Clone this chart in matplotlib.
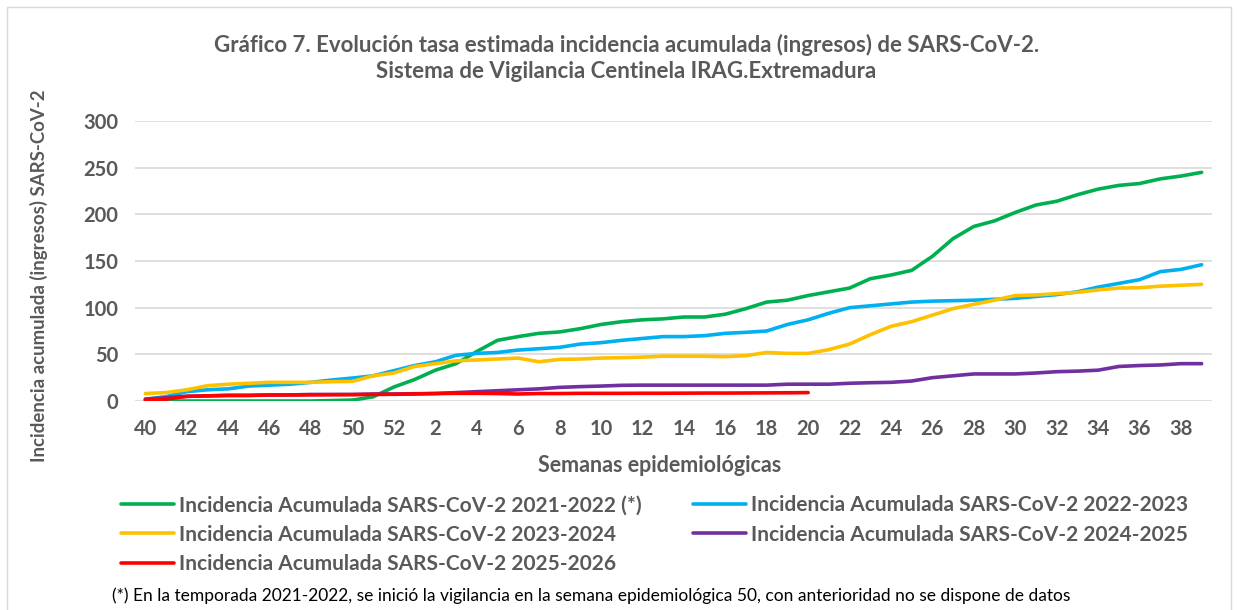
import matplotlib
matplotlib.use("Agg")
import matplotlib.pyplot as plt
from matplotlib.patches import Rectangle

plt.rcParams['font.family'] = ['Lato', 'DejaVu Sans']

weeks = list(range(40, 53)) + list(range(1, 40))

inc_2021_2022 = [0, 0, 0, 0, 0, 0, 0, 0, 0, 0.5, 1, 4.5, 15, 23, 33, 40, 53, 65, 69, 72.5,
                 74, 77.5, 82, 85, 87, 88, 90, 90, 93, 99, 106, 108, 113, 117, 121, 131,
                 135, 140, 155, 174, 187, 193, 202, 210, 214, 221, 227, 231, 233, 238, 241, 245]
inc_2022_2023 = [2, 4.6, 10, 12, 13, 16, 17, 18, 20, 22.5, 24.6, 27, 32.5, 38, 42, 49, 51, 52,
                 54.6, 56, 57.5, 61, 62.5, 65, 67, 69, 69, 70, 72.5, 73.6, 75, 82, 87, 94, 100,
                 102, 104, 106, 107, 107.5, 108, 109, 110, 112, 114, 117, 122, 126, 130, 138.6,
                 141, 146]
inc_2023_2024 = [8, 9, 12, 16.4, 18, 19, 20, 20, 20, 20.7, 21, 27, 30, 37, 40, 43, 44, 45, 46,
                 42, 44.6, 45, 46, 46.4, 47, 48, 48, 48, 47.5, 48.6, 52, 51, 51, 55, 61, 71, 80,
                 85, 92, 99, 103.6, 108, 113, 113.6, 115, 116.4, 119, 121, 121.4, 123, 124, 125]
inc_2024_2025 = [2, 3.5, 5, 5.5, 6, 6, 6.5, 6.5, 7, 7, 7, 7.5, 7.5, 7.8, 8, 9, 10, 11, 12, 13,
                 14.6, 15.4, 16, 16.8, 17, 17, 17, 17, 17, 17, 17, 18, 18, 18, 19, 19.6, 20,
                 21.4, 25, 27, 29, 29, 29, 30, 31.4, 32, 33, 37, 38, 38.6, 40, 40]
inc_2025_2026 = [1, 2, 5, 5.5, 6, 6, 6.4, 6.5, 6.6, 6.7, 6.8, 7, 7.2, 7.5, 8, 8.2, 8.2, 8, 7.5,
                 8, 8, 8.2, 8.2, 8.2, 8.3, 8.3, 8.4, 8.5, 8.5, 8.6, 8.7, 8.8, 9]

series = [
    ("Incidencia Acumulada SARS-CoV-2 2021-2022 (*)", inc_2021_2022, "#00B050"),
    ("Incidencia Acumulada SARS-CoV-2 2022-2023", inc_2022_2023, "#00B0F0"),
    ("Incidencia Acumulada SARS-CoV-2 2023-2024", inc_2023_2024, "#FFC000"),
    ("Incidencia Acumulada SARS-CoV-2 2024-2025", inc_2024_2025, "#7030A0"),
    ("Incidencia Acumulada SARS-CoV-2 2025-2026", inc_2025_2026, "#FF0000"),
]

gray = "#595959"
fig = plt.figure(figsize=(12.38, 6.10), dpi=100)
fig.patches.append(Rectangle((7/1238, -0.05), 1224/1238, 1.05 - 7/610, transform=fig.transFigure,
                             fill=False, edgecolor="#D9D9D9", linewidth=1))
ax = fig.add_axes([135/1238, (610-401)/610, 1077/1238, 280/610])

for label, vals, color in series:
    ax.plot(range(len(vals)), vals, color=color, linewidth=2.6, label=label,
            solid_capstyle='round', solid_joinstyle='round')

ax.set_xlim(-0.5, len(weeks) - 0.5)
ax.set_ylim(0, 300)
ax.set_yticks(range(0, 301, 50))
ax.set_xticks(range(0, len(weeks), 2))
ax.set_xticklabels([str(w) for w in weeks[::2]])
ax.grid(axis='y', color="#D9D9D9", linewidth=1.2)
ax.set_axisbelow(True)
for s in ax.spines.values():
    s.set_visible(False)
ax.tick_params(length=0, colors=gray, labelsize=14.5)
ax.tick_params(axis='x', pad=13)
ax.tick_params(axis='y', pad=12)
for t in ax.get_xticklabels() + ax.get_yticklabels():
    t.set_fontweight('bold')

ax.set_ylabel("Incidencia acumulada (ingresos) SARS-CoV-2", fontsize=13.4, fontweight='bold',
              color=gray)
ax.yaxis.set_label_coords((48 - 135) / 1077, (401 - 276) / 280)
ax.set_xlabel("Semanas epidemiológicas", fontsize=15.5, fontweight='bold', color=gray)
ax.xaxis.set_label_coords((660 - 135) / 1077, (401 - 466) / 280)
ax.xaxis.label.set_va('center')

fig.text(0.506, 1 - 45/610, "Gráfico 7. Evolución tasa estimada incidencia acumulada (ingresos) de SARS-CoV-2.",
         ha='center', va='center', fontsize=16, fontweight='bold', color=gray)
fig.text(0.506, 1 - 72/610, "Sistema de Vigilancia Centinela IRAG.Extremadura",
         ha='center', va='center', fontsize=16, fontweight='bold', color=gray)

handles, labels = ax.get_legend_handles_labels()
order = [0, 2, 4, 1, 3]
leg = fig.legend([handles[i] for i in order], [labels[i] for i in order], ncol=2,
                 loc='upper left', bbox_to_anchor=(113/1238, 1 - 487/610), frameon=False,
                 fontsize=15, handlelength=2.55, handletextpad=0.24, columnspacing=2.45,
                 labelspacing=0.45, borderaxespad=0)
for t in leg.get_texts():
    t.set_fontweight('bold')
    t.set_color(gray)

fig.text(112/1238, 1 - 596/610,
         "(*) En la temporada 2021-2022, se inició la vigilancia en la semana epidemiológica 50, con anterioridad no se dispone de datos",
         ha='left', va='center', fontsize=12.5, color="black")

fig.savefig("out.png", dpi=100)
